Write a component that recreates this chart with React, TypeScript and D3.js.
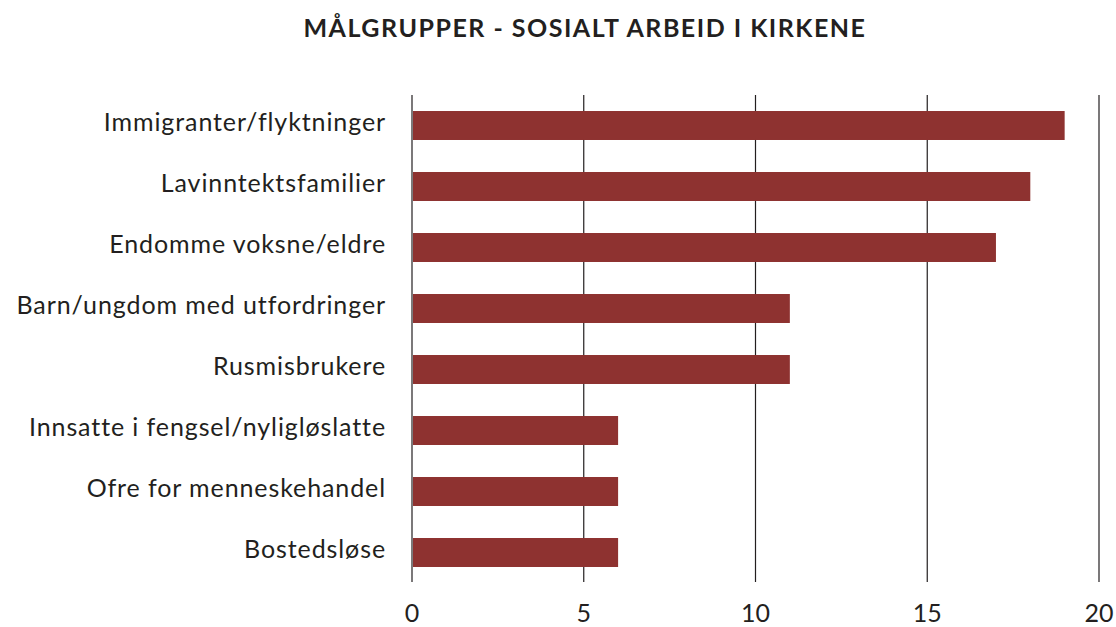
import React, { useEffect, useRef } from 'react';
import * as d3 from 'd3';

const categories = [
  'Immigranter/flyktninger',
  'Lavinntektsfamilier',
  'Endomme voksne/eldre',
  'Barn/ungdom med utfordringer',
  'Rusmisbrukere',
  'Innsatte i fengsel/nyligløslatte',
  'Ofre for menneskehandel',
  'Bostedsløse',
];
const values = [19, 18, 17, 11, 11, 6, 6, 6];
const xTicks = [0, 5, 10, 15, 20];
const title = 'MÅLGRUPPER - SOSIALT ARBEID I KIRKENE';

const W = 1116;
const H = 627;

export default function App() {
  const ref = useRef<SVGSVGElement | null>(null);

  useEffect(() => {
    const svg = d3.select(ref.current);
    svg.selectAll('*').remove();

    const font = 'Lato, "Open Sans", sans-serif';
    const ink = '#231f20';

    const x = d3.scaleLinear().domain([0, 20]).range([412, 1099]);
    const y = d3.scaleBand<string>()
      .domain(categories)
      .range([95, 583])
      .paddingInner(0.525)
      .paddingOuter(0.2625);

    svg.append('text')
      .attr('x', 585)
      .attr('y', 37)
      .attr('text-anchor', 'middle')
      .attr('font-family', font)
      .attr('font-weight', 700)
      .attr('font-size', 25)
      .attr('letter-spacing', 1.5)
      .attr('fill', ink)
      .text(title);

    // gridlines
    svg.append('g')
      .selectAll('line')
      .data(xTicks)
      .enter()
      .append('line')
      .attr('x1', d => x(d))
      .attr('x2', d => x(d))
      .attr('y1', 95)
      .attr('y2', 582)
      .attr('stroke', ink)
      .attr('stroke-width', 1.2);

    svg.append('g')
      .selectAll('rect')
      .data(values)
      .enter()
      .append('rect')
      .attr('x', x(0) + 1)
      .attr('y', (d, i) => y(categories[i]) as number)
      .attr('height', y.bandwidth())
      .attr('width', d => x(d) - x(0) - 1)
      .attr('fill', '#8e3230');

    svg.append('g')
      .selectAll('text')
      .data(categories)
      .enter()
      .append('text')
      .attr('x', 386)
      .attr('y', d => (y(d) as number) + y.bandwidth() / 2)
      .attr('dy', '0.2em')
      .attr('text-anchor', 'end')
      .attr('font-family', font)
      .attr('font-size', 25)
      .attr('letter-spacing', 0.9)
      .attr('fill', ink)
      .text(d => d);

    svg.append('g')
      .selectAll('text')
      .data(xTicks)
      .enter()
      .append('text')
      .attr('x', d => x(d))
      .attr('y', 622)
      .attr('text-anchor', 'middle')
      .attr('font-family', font)
      .attr('font-size', 25)
      .attr('fill', ink)
      .text(d => d);
  }, []);

  return (
    <svg ref={ref} width={W} height={H} style={{ position: 'absolute', left: 0, top: 0, background: '#fff' }} />
  );
}
